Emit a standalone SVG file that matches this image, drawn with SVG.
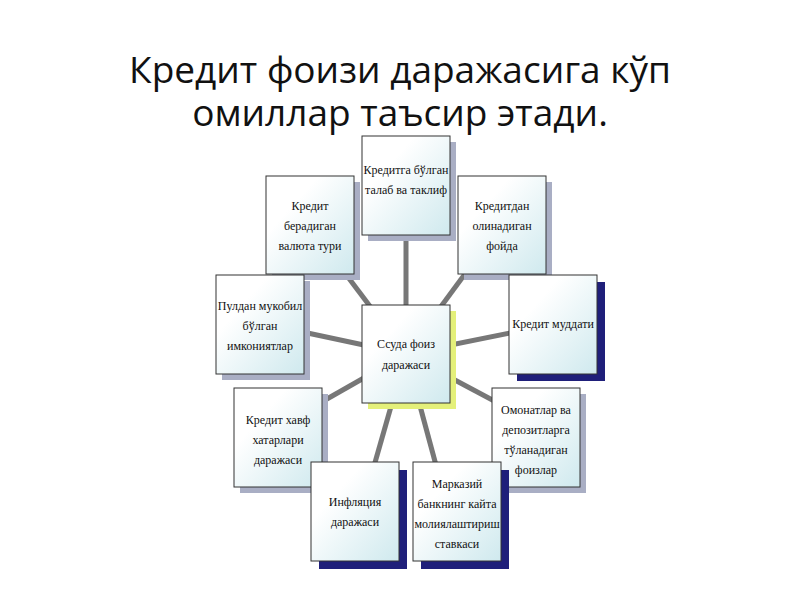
<svg xmlns="http://www.w3.org/2000/svg" width="800" height="600" viewBox="0 0 800 600">
<defs>
<linearGradient id="g" x1="0" y1="0" x2="1" y2="1"><stop offset="0.3" stop-color="#ffffff"/><stop offset="1" stop-color="#cfe9ee"/></linearGradient>
<style>
.b{fill:url(#g);stroke:#333;stroke-width:1}
.s{fill:#a9aec4}
.n{fill:#1f1f7a}
.y{fill:#e4f07a}
.t{font-family:"Liberation Serif",serif;font-size:12px;fill:#111;text-anchor:middle}
.c line{stroke:#777;stroke-width:5}
.h{font-family:"Open Sans",sans-serif;font-size:37px;fill:#111;text-anchor:middle}
</style>
</defs>
<rect width="800" height="600" fill="#fff"/>
<text class="h" x="400" y="83">Кредит фоизи даражасига кўп</text>
<text class="h" x="400" y="126">омиллар таъсир этади.</text>
<g class="c">
<line x1="406" y1="354" x2="406" y2="200"/>
<line x1="406" y1="354" x2="320" y2="240"/>
<line x1="406" y1="354" x2="490" y2="240"/>
<line x1="406" y1="354" x2="270" y2="325"/>
<line x1="406" y1="354" x2="550" y2="325"/>
<line x1="406" y1="354" x2="290" y2="420"/>
<line x1="406" y1="354" x2="530" y2="420"/>
<line x1="406" y1="354" x2="370" y2="480"/>
<line x1="406" y1="354" x2="440" y2="480"/>
</g>
<g id="n1"><rect class="s" x="368" y="142" width="88" height="99"/><rect class="b" x="362" y="136" width="88" height="99"/><text class="t" x="406" y="174">Кредитга бўлган</text><text class="t" x="406" y="194">талаб ва таклиф</text></g>
<g id="n2"><rect class="s" x="272" y="182" width="88" height="98"/><rect class="b" x="266" y="176" width="88" height="98"/><text class="t" x="310" y="210">Кредит</text><text class="t" x="310" y="230">берадиган</text><text class="t" x="310" y="250">валюта тури</text></g>
<g id="n3"><rect class="s" x="464" y="182" width="88" height="98"/><rect class="b" x="458" y="176" width="88" height="98"/><text class="t" x="502" y="210">Кредитдан</text><text class="t" x="502" y="230">олинадиган</text><text class="t" x="502" y="250">фойда</text></g>
<g id="n4"><rect class="s" x="222" y="281" width="88" height="99"/><rect class="b" x="216" y="275" width="88" height="99"/><text class="t" x="260" y="310">Пулдан мукобил</text><text class="t" x="260" y="330">бўлган</text><text class="t" x="260" y="350">имкониятлар</text></g>
<g id="n5"><rect class="n" x="517" y="282" width="88" height="99"/><rect class="b" x="509" y="275" width="88" height="99"/><text class="t" x="553" y="328">Кредит муддати</text></g>
<g id="n0"><rect class="y" x="368" y="311" width="88" height="98"/><rect class="b" x="362" y="305" width="88" height="98"/><text class="t" x="406" y="348">Ссуда фоиз</text><text class="t" x="406" y="369">даражаси</text></g>
<g id="n6"><rect class="s" x="240" y="394" width="88" height="99"/><rect class="b" x="234" y="388" width="88" height="99"/><text class="t" x="278" y="424">Кредит хавф</text><text class="t" x="278" y="444">хатарлари</text><text class="t" x="278" y="464">даражаси</text></g>
<g id="n7"><rect class="s" x="498" y="394" width="88" height="99"/><rect class="b" x="492" y="388" width="88" height="99"/><text class="t" x="536" y="414">Омонатлар ва</text><text class="t" x="536" y="434">депозитларга</text><text class="t" x="536" y="454">тўланадиган</text><text class="t" x="536" y="474">фоизлар</text></g>
<g id="n8"><rect class="n" x="319" y="470" width="88" height="99"/><rect class="b" x="311" y="462" width="88" height="99"/><text class="t" x="355" y="506">Инфляция</text><text class="t" x="355" y="526">даражаси</text></g>
<g id="n9"><rect class="n" x="421" y="470" width="88" height="99"/><rect class="b" x="413" y="462" width="88" height="99"/><text class="t" x="457" y="488">Марказий</text><text class="t" x="457" y="508">банкнинг кайта</text><text class="t" x="457" y="528" font-size="11">молиялаштириш</text><text class="t" x="457" y="548">ставкаси</text></g>
</svg>
